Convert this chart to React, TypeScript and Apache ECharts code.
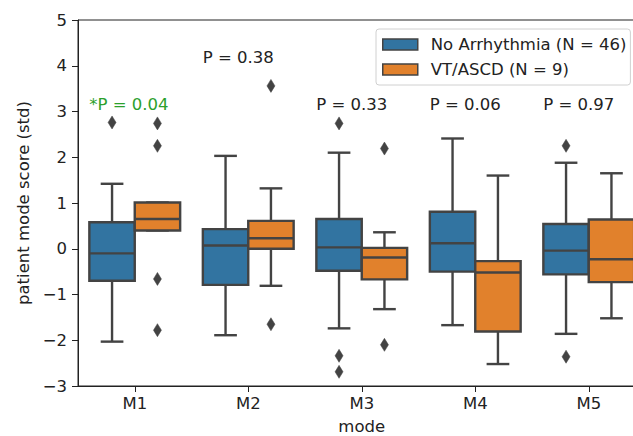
import React, { useEffect, useRef } from "react";
import * as echarts from "echarts";

const categories = ["M1", "M2", "M3", "M4", "M5"];
// [lower whisker, Q1, median, Q3, upper whisker]
const noArrhythmiaBox = [
  [-2.03, -0.7, -0.1, 0.58, 1.42],
  [-1.89, -0.79, 0.07, 0.43, 2.03],
  [-1.74, -0.48, 0.03, 0.65, 2.1],
  [-1.67, -0.5, 0.12, 0.81, 2.41],
  [-1.86, -0.56, -0.04, 0.54, 1.88],
];
const vtAscdBox = [
  [0.4, 0.4, 0.65, 1.01, 1.01],
  [-0.81, 0.0, 0.23, 0.61, 1.32],
  [-1.32, -0.67, -0.19, 0.02, 0.36],
  [-2.52, -1.81, -0.52, -0.27, 1.6],
  [-1.52, -0.73, -0.23, 0.64, 1.65],
];
// [category index, value]
const noArrhythmiaOutliers = [
  [0, 2.76],
  [2, 2.74],
  [2, -2.34],
  [2, -2.69],
  [4, 2.25],
  [4, -2.36],
];
const vtAscdOutliers = [
  [0, 2.74],
  [0, 2.25],
  [0, -0.66],
  [0, -1.78],
  [1, 3.56],
  [1, -1.65],
  [2, 2.19],
  [2, -2.1],
];
const pLabels = ["*P = 0.04", "P = 0.38", "P = 0.33", "P = 0.06", "P = 0.97"];
const pLabelY = [3.16, 4.17, 3.15, 3.15, 3.15];
const significant = [true, false, false, false, false];

const seriesNames = ["No Arrhythmia (N = 46)", "VT/ASCD (N = 9)"];
const BLUE = "#3274a1";
const ORANGE = "#e1812c";
const GRAY = "#434343";
const FONT = "DejaVu Sans";
const FS = 16.5;

function boxRenderer(offsetFrac: number, color: string) {
  return (params: any, api: any) => {
    const idx = api.value(0);
    const lo = api.coord([idx, api.value(1)]);
    const q1 = api.coord([idx, api.value(2)]);
    const med = api.coord([idx, api.value(3)]);
    const q3 = api.coord([idx, api.value(4)]);
    const hi = api.coord([idx, api.value(5)]);
    const bandW = api.size([1, 0])[0];
    const cx = med[0] + offsetFrac * bandW;
    const hw = bandW * 0.2;
    const cw = hw * 0.5;
    const lineStyle = { stroke: GRAY, lineWidth: 2.4 };
    return {
      type: "group",
      children: [
        { type: "line", shape: { x1: cx, y1: q3[1], x2: cx, y2: hi[1] }, style: lineStyle },
        { type: "line", shape: { x1: cx, y1: q1[1], x2: cx, y2: lo[1] }, style: lineStyle },
        { type: "line", shape: { x1: cx - cw, y1: hi[1], x2: cx + cw, y2: hi[1] }, style: lineStyle },
        { type: "line", shape: { x1: cx - cw, y1: lo[1], x2: cx + cw, y2: lo[1] }, style: lineStyle },
        {
          type: "rect",
          shape: { x: cx - hw, y: q3[1], width: hw * 2, height: q1[1] - q3[1] },
          style: { fill: color, stroke: GRAY, lineWidth: 2.4 },
        },
        { type: "line", shape: { x1: cx - hw, y1: med[1], x2: cx + hw, y2: med[1] }, style: lineStyle },
      ],
    };
  };
}

function outlierRenderer(offsetFrac: number) {
  return (params: any, api: any) => {
    const p = api.coord([api.value(0), api.value(1)]);
    const bandW = api.size([1, 0])[0];
    const cx = p[0] + offsetFrac * bandW;
    const cy = p[1];
    return {
      type: "polygon",
      shape: {
        points: [
          [cx, cy - 6.5],
          [cx + 4, cy],
          [cx, cy + 6.5],
          [cx - 4, cy],
        ],
      },
      style: { fill: GRAY, stroke: GRAY, lineWidth: 0.5 },
    };
  };
}

export default function App() {
  const ref = useRef<HTMLDivElement>(null);
  useEffect(() => {
    if (!ref.current) return;
    const chart = echarts.init(ref.current, null, { renderer: "svg" });
    const boxData = (arr: number[][]) => arr.map((b, i) => [i, ...b]);
    chart.setOption({
      animation: false,
      backgroundColor: "#fff",
      grid: {
        left: 78,
        top: 20,
        right: -12.5,
        bottom: 50,
        outerBoundsMode: "none",
        containLabel: false,
        show: true,
        borderColor: "#222",
        borderWidth: 1,
        backgroundColor: "transparent",
      },
      legend: {
        data: [
          { name: seriesNames[0], icon: "rect", itemStyle: { color: BLUE, borderColor: GRAY, borderWidth: 1.5 } },
          { name: seriesNames[1], icon: "rect", itemStyle: { color: ORANGE, borderColor: GRAY, borderWidth: 1.5 } },
        ],
        orient: "vertical",
        left: 376,
        top: 29,
        padding: [7, 4, 7, 6],
        itemWidth: 35,
        itemHeight: 11,
        itemGap: 8,
        borderColor: "#d0d0d0",
        borderWidth: 1,
        borderRadius: 3,
        backgroundColor: "rgba(255,255,255,0.8)",
        textStyle: { fontSize: FS, fontFamily: FONT, color: "#222", padding: [0, 0, 0, 8] },
      },
      xAxis: {
        type: "category",
        data: categories,
        name: "mode",
        nameLocation: "middle",
        nameGap: 32,
        nameTextStyle: { fontSize: FS, fontFamily: FONT, color: "#222" },
        axisLine: { show: true, onZero: false, lineStyle: { color: "#222", width: 1 } },
        axisTick: { show: true, alignWithLabel: true, length: 6, lineStyle: { color: "#222" } },
        axisLabel: { fontSize: FS, fontFamily: FONT, color: "#222", margin: 9 },
        splitLine: { show: false },
      },
      yAxis: {
        type: "value",
        min: -3,
        max: 5,
        interval: 1,
        name: "patient mode score (std)",
        nameLocation: "middle",
        nameGap: 37,
        nameTextStyle: { fontSize: FS, fontFamily: FONT, color: "#222" },
        axisLine: { show: true, lineStyle: { color: "#222", width: 1 } },
        axisTick: { show: true, length: 6, lineStyle: { color: "#222" } },
        axisLabel: {
          fontSize: FS,
          fontFamily: FONT,
          color: "#222",
          margin: 11,
          formatter: (v: number) => (v < 0 ? "\u2212" + Math.abs(v) : String(v)),
        },
        splitLine: { show: false },
      },
      series: [
        {
          name: seriesNames[0],
          type: "custom",
          itemStyle: { color: BLUE },
          encode: { x: 0, y: [1, 2, 3, 4, 5] },
          data: boxData(noArrhythmiaBox),
          renderItem: boxRenderer(-0.2, BLUE),
          z: 2,
        },
        {
          name: seriesNames[1],
          type: "custom",
          itemStyle: { color: ORANGE },
          encode: { x: 0, y: [1, 2, 3, 4, 5] },
          data: boxData(vtAscdBox),
          renderItem: boxRenderer(0.2, ORANGE),
          z: 2,
        },
        {
          name: seriesNames[0],
          type: "custom",
          itemStyle: { color: BLUE },
          encode: { x: 0, y: 1 },
          data: noArrhythmiaOutliers,
          renderItem: outlierRenderer(-0.2),
          z: 3,
        },
        {
          name: seriesNames[1],
          type: "custom",
          itemStyle: { color: ORANGE },
          encode: { x: 0, y: 1 },
          data: vtAscdOutliers,
          renderItem: outlierRenderer(0.2),
          z: 3,
        },
        {
          name: "pvalues",
          type: "custom",
          encode: { x: 0, y: 1 },
          data: pLabelY.map((y, i) => [i, y]),
          renderItem: (params: any, api: any) => {
            const i = params.dataIndex;
            const p = api.coord([api.value(0), api.value(1)]);
            const bandW = api.size([1, 0])[0];
            return {
              type: "text",
              x: p[0] - 0.4 * bandW,
              y: p[1],
              style: {
                text: pLabels[i],
                fill: significant[i] ? "#2ca02c" : "#222",
                fontSize: FS,
                fontFamily: FONT,
                align: "left",
                verticalAlign: "middle",
              },
            };
          },
          z: 4,
        },
      ],
    });
    return () => chart.dispose();
  }, []);
  return (
    <div
      ref={ref}
      style={{ position: "absolute", left: 0, top: 0, width: 633, height: 436 }}
    />
  );
}
